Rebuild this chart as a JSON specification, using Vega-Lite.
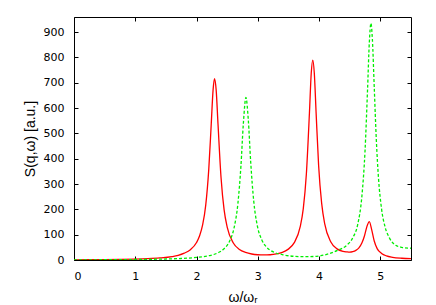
{
  "$schema": "https://vega.github.io/schema/vega-lite/v6.json",
  "width": 337,
  "height": 243,
  "autosize": "none",
  "padding": {"left": 74, "top": 17, "right": 25, "bottom": 45},
  "background": "white",
  "config": {
    "view": {"stroke": "black", "strokeWidth": 1},
    "axis": {
      "labelFont": "DejaVu Sans",
      "titleFont": "Liberation Sans",
      "labelFontSize": 11,
      "titleFontSize": 14,
      "titleFontWeight": "normal",
      "labelColor": "black",
      "titleColor": "black",
      "domainColor": "black",
      "tickColor": "black",
      "grid": false
    }
  },
  "datasets": {
    "red": [
      {"w": 0, "s": 0.5}, {"w": 0.25, "s": 1.0}, {"w": 0.5, "s": 1.6}, {"w": 0.75, "s": 2.4},
      {"w": 1.0, "s": 3.6}, {"w": 1.2, "s": 5.2}, {"w": 1.4, "s": 8.0}, {"w": 1.6, "s": 13.3},
      {"w": 1.7, "s": 18.3}, {"w": 1.8, "s": 26.9}, {"w": 1.9, "s": 40.7}, {"w": 2.0, "s": 69},
      {"w": 2.05, "s": 95.5}, {"w": 2.1, "s": 139.5}, {"w": 2.15, "s": 217}, {"w": 2.2, "s": 360},
      {"w": 2.24, "s": 538}, {"w": 2.27, "s": 672}, {"w": 2.293, "s": 716}, {"w": 2.32, "s": 672},
      {"w": 2.35, "s": 538}, {"w": 2.4, "s": 325}, {"w": 2.45, "s": 198}, {"w": 2.5, "s": 130},
      {"w": 2.6, "s": 67}, {"w": 2.7, "s": 41.7}, {"w": 2.8, "s": 29.9}, {"w": 2.9, "s": 23.7},
      {"w": 3.0, "s": 20.8}, {"w": 3.1, "s": 19.9}, {"w": 3.2, "s": 20.8}, {"w": 3.3, "s": 23.8},
      {"w": 3.4, "s": 30}, {"w": 3.492, "s": 42}, {"w": 3.592, "s": 67.7}, {"w": 3.692, "s": 131.7},
      {"w": 3.742, "s": 203}, {"w": 3.792, "s": 338.7}, {"w": 3.842, "s": 578.6}, {"w": 3.872, "s": 738.6},
      {"w": 3.897, "s": 790}, {"w": 3.922, "s": 738}, {"w": 3.952, "s": 578}, {"w": 3.992, "s": 374.5},
      {"w": 4.042, "s": 223.6}, {"w": 4.092, "s": 142.5}, {"w": 4.192, "s": 71.3}, {"w": 4.292, "s": 44},
      {"w": 4.392, "s": 34}, {"w": 4.45, "s": 32}, {"w": 4.5, "s": 31}, {"w": 4.55, "s": 33},
      {"w": 4.6, "s": 38}, {"w": 4.65, "s": 48}, {"w": 4.7, "s": 68}, {"w": 4.74, "s": 95},
      {"w": 4.78, "s": 132}, {"w": 4.82, "s": 152}, {"w": 4.86, "s": 118}, {"w": 4.9, "s": 75},
      {"w": 4.95, "s": 44}, {"w": 5.02, "s": 25.9}, {"w": 5.1, "s": 16.1}, {"w": 5.2, "s": 10.7},
      {"w": 5.35, "s": 7.0}, {"w": 5.5, "s": 5.1}
    ],
    "green": [
      {"w": 0, "s": 0.4}, {"w": 0.25, "s": 0.6}, {"w": 0.5, "s": 1.0}, {"w": 0.75, "s": 1.4},
      {"w": 1.0, "s": 2.0}, {"w": 1.25, "s": 2.8}, {"w": 1.5, "s": 4.0}, {"w": 1.75, "s": 6.0},
      {"w": 2.0, "s": 10.2}, {"w": 2.2, "s": 16.8}, {"w": 2.344, "s": 27.9}, {"w": 2.444, "s": 43.4},
      {"w": 2.544, "s": 76.8}, {"w": 2.614, "s": 128.5}, {"w": 2.674, "s": 221}, {"w": 2.724, "s": 370},
      {"w": 2.764, "s": 539}, {"w": 2.806, "s": 642}, {"w": 2.844, "s": 556}, {"w": 2.884, "s": 386},
      {"w": 2.934, "s": 231}, {"w": 2.994, "s": 133}, {"w": 3.064, "s": 80}, {"w": 3.144, "s": 50.5},
      {"w": 3.244, "s": 33}, {"w": 3.4, "s": 21.3}, {"w": 3.6, "s": 14.5}, {"w": 3.8, "s": 13},
      {"w": 4.0, "s": 16}, {"w": 4.15, "s": 24}, {"w": 4.3, "s": 38}, {"w": 4.45, "s": 58},
      {"w": 4.55, "s": 88}, {"w": 4.63, "s": 140}, {"w": 4.7, "s": 256}, {"w": 4.75, "s": 432},
      {"w": 4.79, "s": 668}, {"w": 4.82, "s": 860}, {"w": 4.846, "s": 935}, {"w": 4.87, "s": 871},
      {"w": 4.9, "s": 683}, {"w": 4.934, "s": 475}, {"w": 4.97, "s": 322}, {"w": 5.02, "s": 201},
      {"w": 5.08, "s": 128}, {"w": 5.15, "s": 86.5}, {"w": 5.25, "s": 58}, {"w": 5.35, "s": 50},
      {"w": 5.45, "s": 47}, {"w": 5.5, "s": 46.5}
    ]
  },
  "layer": [
    {
      "data": {"name": "red"},
      "mark": {"type": "line", "color": "#ff0000", "strokeWidth": 1.3, "interpolate": "monotone", "clip": true},
      "encoding": {
        "x": {
          "field": "w", "type": "quantitative",
          "scale": {"domain": [0, 5.5], "nice": false, "zero": false},
          "axis": {"orient": "bottom", "values": [0, 1, 2, 3, 4, 5], "tickSize": -4, "labelPadding": 14, "title": "ω/ωᵣ", "titlePadding": 9, "domain": false}
        },
        "y": {
          "field": "s", "type": "quantitative",
          "scale": {"domain": [0, 960], "nice": false},
          "axis": {"orient": "left", "values": [0, 100, 200, 300, 400, 500, 600, 700, 800, 900], "tickSize": -4, "labelPadding": 14, "title": "S(q,ω) [a.u.]", "titlePadding": 6, "domain": false}
        }
      }
    },
    {
      "data": {"name": "green"},
      "mark": {"type": "line", "color": "#00ee00", "strokeWidth": 1.3, "strokeDash": [3, 2], "interpolate": "monotone", "clip": true},
      "encoding": {
        "x": {
          "field": "w", "type": "quantitative",
          "axis": {"orient": "top", "values": [0, 1, 2, 3, 4, 5], "tickSize": -4, "labels": false, "title": null, "domain": false}
        },
        "y": {
          "field": "s", "type": "quantitative",
          "axis": {"orient": "right", "values": [0, 100, 200, 300, 400, 500, 600, 700, 800, 900], "tickSize": -4, "labels": false, "title": null, "domain": false}
        }
      }
    }
  ],
  "resolve": {"axis": {"x": "independent", "y": "independent"}}
}
